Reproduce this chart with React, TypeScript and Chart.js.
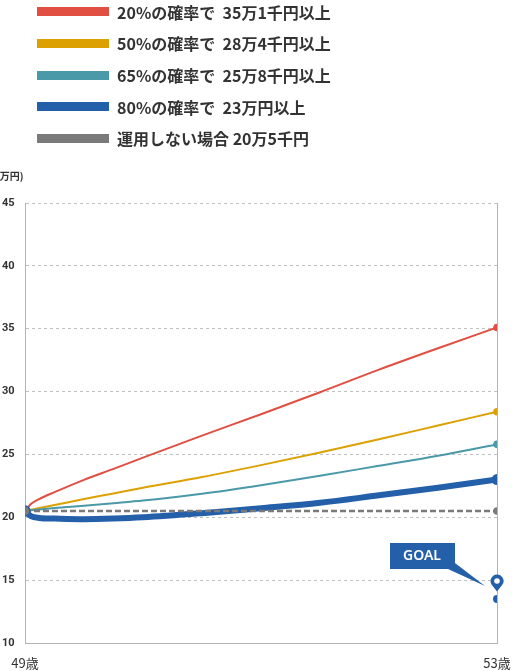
import React, { useEffect, useRef } from "react";
import { Chart, registerables, ChartConfiguration, Plugin } from "chart.js";

Chart.register(...registerables);

// ages on the x axis (years old)
const AGES = [49, 49.05, 49.12, 49.25, 49.5, 49.75, 50, 50.5, 51, 51.5, 52, 52.5, 53];

// asset paths in 万円
const P20 = [20.5, 21.05, 21.45, 22.0, 22.98, 23.85, 24.75, 26.5, 28.2, 29.95, 31.75, 33.45, 35.1];
const P50 = [20.5, 20.6, 20.74, 20.98, 21.45, 21.9, 22.35, 23.2, 24.15, 25.15, 26.2, 27.3, 28.4];
const P65 = [20.5, 20.55, 20.62, 20.73, 20.92, 21.12, 21.33, 21.87, 22.55, 23.3, 24.1, 24.9, 25.8];
const P80 = [20.5, 20.1, 19.95, 19.9, 19.85, 19.9, 20.0, 20.33, 20.72, 21.15, 21.75, 22.35, 23.0];

const BASE_AGES = [49, 53];
const BASE = [20.5, 20.5];

const GOAL_AGE = 53;
const GOAL_VALUE = 13.5;

const LEGEND_LABELS = [
  "20%の確率で  35万1千円以上",
  "50%の確率で  28万4千円以上",
  "65%の確率で  25万8千円以上",
  "80%の確率で  23万円以上",
  "運用しない場合 20万5千円",
];
const COLORS = ["#e04f41", "#dca100", "#4a99a9", "#2360a9", "#7a7a7a"];

const Y_MIN = 10;
const Y_MAX = 45;
const Y_STEP = 5;
const UNIT_LABEL = "(万円)";

const toPoints = (xs: number[], ys: number[]) => xs.map((x, i) => ({ x, y: ys[i] }));

const lastOnly = (r: number) => (ctx: any) =>
  ctx.dataIndex === ctx.dataset.data.length - 1 ? r : 0;

const extrasPlugin: Plugin<"line"> = {
  id: "extras",
  afterDraw(chart) {
    const { ctx, scales } = chart;
    ctx.save();

    // unit label
    ctx.font = "bold 10px 'Noto Sans CJK JP'";
    ctx.fillStyle = "#333";
    ctx.textAlign = "left";
    ctx.textBaseline = "middle";
    ctx.fillText(UNIT_LABEL, -4, 176);

    // goal pin
    const gx = scales.x.getPixelForValue(GOAL_AGE);
    const gy = scales.y.getPixelForValue(GOAL_VALUE);
    const blue = COLORS[3];
    const cx = gx;
    const cy = gy - 18;
    const r = 6.5;
    const d = 10.5;
    const a = Math.acos(r / d);
    ctx.fillStyle = blue;
    ctx.beginPath();
    ctx.arc(cx, cy, r, Math.PI / 2 + a, Math.PI / 2 - a, false);
    ctx.lineTo(cx, cy + d);
    ctx.closePath();
    ctx.fill();
    ctx.fillStyle = "#fff";
    ctx.beginPath();
    ctx.arc(cx, cy, 2.8, 0, Math.PI * 2);
    ctx.fill();

    // callout
    ctx.fillStyle = blue;
    ctx.beginPath();
    ctx.moveTo(gx - 42.7, gy - 36.5);
    ctx.lineTo(gx - 49, gy - 30);
    ctx.lineTo(gx - 12, gy - 13);
    ctx.closePath();
    ctx.fill();
    ctx.fillRect(gx - 107, gy - 56, 65, 26);
    ctx.fillStyle = "#fff";
    ctx.font = "600 14px 'Noto Sans'";
    ctx.textAlign = "center";
    ctx.textBaseline = "middle";
    ctx.fillText("GOAL", gx - 75, gy - 42.5);

    ctx.restore();
  },
};

const series = [P20, P50, P65, P80];

export default function App() {
  const canvasRef = useRef<HTMLCanvasElement | null>(null);

  useEffect(() => {
    const ctx = canvasRef.current?.getContext("2d");
    if (!ctx) return;

    const lines = series.map((vals, i) => ({
      label: LEGEND_LABELS[i],
      data: toPoints(AGES, vals),
      borderColor: COLORS[i],
      backgroundColor: COLORS[i],
      borderWidth: i === 3 ? 6 : 2,
      cubicInterpolationMode: "monotone" as const,
      pointRadius: lastOnly(i === 3 ? 5.5 : 3.8),
      pointHoverRadius: 0,
      pointBorderWidth: 0,
      order: 4 - i,
    }));

    const config: ChartConfiguration<"line"> = {
      type: "line",
      data: {
        datasets: [
          ...lines,
          {
            label: LEGEND_LABELS[4],
            data: toPoints(BASE_AGES, BASE),
            borderColor: COLORS[4],
            backgroundColor: COLORS[4],
            borderWidth: 2.5,
            borderDash: [6, 3],
            pointRadius: (c: any) => (c.dataIndex === 0 ? 5 : 3.8),
            pointBorderColor: (c: any) => (c.dataIndex === 0 ? COLORS[3] : COLORS[4]),
            pointBorderWidth: (c: any) => (c.dataIndex === 0 ? 1.5 : 0),
            order: 0,
          },
          {
            label: "goal",
            data: [{ x: GOAL_AGE, y: GOAL_VALUE }],
            showLine: false,
            pointRadius: 4,
            pointBorderWidth: 0,
            backgroundColor: COLORS[3],
            borderColor: COLORS[3],
            order: 0,
          },
        ],
      },
      options: {
        animation: false,
        responsive: true,
        maintainAspectRatio: false,
        layout: { padding: { top: 203, left: 2, right: 15, bottom: 0 } },
        plugins: { legend: { display: false }, tooltip: { enabled: false } },
        scales: {
          x: {
            type: "linear",
            min: AGES[0],
            max: AGES[AGES.length - 1],
            afterFit(scale: any) {
              scale.height = 28;
              scale.paddingLeft = 0;
              scale.paddingRight = 0;
            },
            ticks: {
              stepSize: 4,
              padding: 12,
              color: "#333",
              font: { size: 13, family: "'Noto Sans CJK JP'" },
              callback: (v) => `${v}歳`,
            },
            grid: { color: "#b4b4b4", drawTicks: false },
            border: { color: "#b4b4b4" },
          },
          y: {
            min: Y_MIN,
            max: Y_MAX,
            afterFit(scale) {
              scale.width = 23;
            },
            ticks: {
              stepSize: Y_STEP,
              crossAlign: "far",
              color: "#333",
              font: { size: 11, weight: "bold", family: "Roboto" },
            },
            grid: { color: "#c0c0c0", drawTicks: false },
            border: { color: "#b4b4b4", dash: [3, 3] },
          },
        },
      },
      plugins: [extrasPlugin],
    };

    const chart = new Chart(ctx, config);
    return () => chart.destroy();
  }, []);

  return (
    <div style={{ position: "absolute", left: 0, top: 0, width: 512, height: 671, background: "#fff" }}>
      <canvas ref={canvasRef} />
      {LEGEND_LABELS.map((label, i) => (
        <div
          key={label}
          style={{
            position: "absolute",
            left: 37,
            top: 11.7 + i * 31.65 - 12,
            height: 24,
            display: "flex",
            alignItems: "center",
            whiteSpace: "pre",
            fontFamily: "'Noto Sans CJK JP', sans-serif",
            fontWeight: "bold",
            fontSize: 16,
            color: "#333",
          }}
        >
          <span style={{ display: "inline-block", width: 72, height: 9, background: COLORS[i], marginRight: 8 }} />
          {label}
        </div>
      ))}
    </div>
  );
}
